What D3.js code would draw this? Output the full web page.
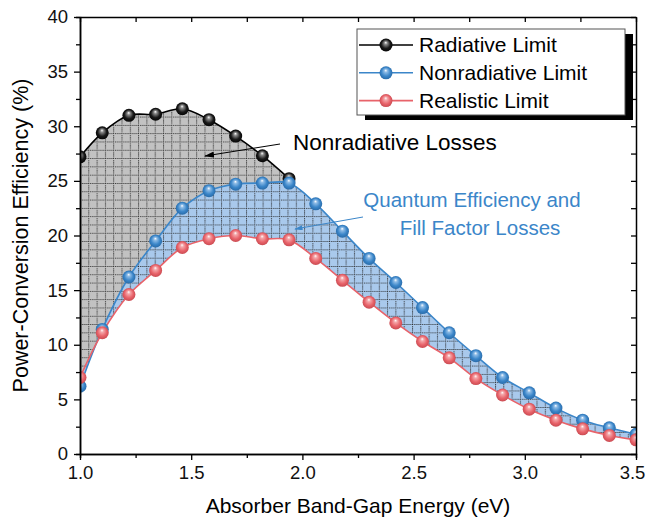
<!DOCTYPE html>
<html>
<head>
<meta charset="utf-8">
<script src="https://cdn.jsdelivr.net/npm/d3@7"></script>
<style>
  body { margin: 0; background: #fff; }
  text { font-family: "Liberation Sans", Arial, sans-serif; }
</style>
</head>
<body>
<div id="chart-area"></div>
<script>
// values
const energy = [1.00, 1.10, 1.22, 1.34, 1.46, 1.58, 1.70, 1.82, 1.94, 2.06, 2.18,
  2.30, 2.42, 2.54, 2.66, 2.78, 2.90, 3.02, 3.14, 3.26, 3.38, 3.50]
const radiative = [27.2, 29.4, 31.0, 31.1, 31.6, 30.6, 29.1, 27.3, 25.2]
const nonradiative = [6.2, 11.4, 16.2, 19.5, 22.5, 24.1, 24.7, 24.8, 24.8, 22.9, 20.4,
  17.9, 15.7, 13.4, 11.1, 9.0, 7.0, 5.6, 4.2, 3.1, 2.4, 1.8]
const realistic = [7.0, 11.1, 14.6, 16.8, 18.9, 19.7, 20.0, 19.7, 19.6, 17.9, 15.9,
  13.9, 12.0, 10.3, 8.8, 6.9, 5.4, 4.1, 3.1, 2.3, 1.7, 1.3]

const xTicks = [1.0, 1.5, 2.0, 2.5, 3.0, 3.5]
const xMinor = [1.25, 1.75, 2.25, 2.75, 3.25]
const yTicks = [0, 5, 10, 15, 20, 25, 30, 35, 40]
const yMinor = [2.5, 7.5, 12.5, 17.5, 22.5, 27.5, 32.5, 37.5]

const seriesNames = ["Radiative Limit", "Nonradiative Limit", "Realistic Limit"]

const MARGIN = {LEFT:80, RIGHT:11, TOP:17, BOTTOM:67}
const WIDTH = 647 - MARGIN.LEFT - MARGIN.RIGHT
const HEIGHT = 521 - MARGIN.TOP - MARGIN.BOTTOM

const svg = d3.select("#chart-area").append("svg")
  .attr("width", 647)
  .attr("height", 521)

const defs = svg.append("defs")

// dotted grid hatch used on both filled regions
function hatch(id, bg) {
  const p = defs.append("pattern")
    .attr("id", id)
    .attr("patternUnits", "userSpaceOnUse")
    .attr("width", 8.3)
    .attr("height", 8.3)
  p.append("rect").attr("width", 8.3).attr("height", 8.3).attr("fill", bg)
  p.append("path")
    .attr("d", "M0,0.5H8.3M0.5,0V8.3")
    .attr("stroke", "#222")
    .attr("stroke-width", 1)
    .attr("stroke-dasharray", "1,1")
}
hatch("hatch-gray", "#c2c2c2")
hatch("hatch-blue", "#a9c9ec")

// sphere look for the markers
const colors = [
  {id:"ball-black", line:"#000", stops:["#ffffff", "#8a8a8a", "#1a1a1a", "#000000"]},
  {id:"ball-blue", line:"#3b86c9", stops:["#ffffff", "#8dbbe6", "#3b86c9", "#2566a3"]},
  {id:"ball-red", line:"#e8636a", stops:["#ffffff", "#f4a7aa", "#e8636a", "#c4464d"]}
]
colors.forEach(c => {
  const gr = defs.append("radialGradient")
    .attr("id", c.id)
    .attr("cx", "50%").attr("cy", "50%").attr("r", "55%")
    .attr("fx", "48%").attr("fy", "30%")
  ;[0, 0.22, 0.62, 1].forEach((o, i) => {
    gr.append("stop").attr("offset", o).attr("stop-color", c.stops[i])
  })
})

defs.append("clipPath").attr("id", "plot-clip")
  .append("rect").attr("width", WIDTH).attr("height", HEIGHT)

defs.append("marker")
  .attr("id", "arrow-black")
  .attr("viewBox", "0 0 10 6").attr("refX", 9).attr("refY", 3)
  .attr("markerWidth", 10).attr("markerHeight", 6)
  .attr("markerUnits", "userSpaceOnUse")
  .attr("orient", "auto")
  .append("path").attr("d", "M0,0L10,3L0,6Z").attr("fill", "#000")
defs.append("marker")
  .attr("id", "arrow-blue")
  .attr("viewBox", "0 0 10 6").attr("refX", 9).attr("refY", 3)
  .attr("markerWidth", 9).attr("markerHeight", 5)
  .attr("markerUnits", "userSpaceOnUse")
  .attr("orient", "auto")
  .append("path").attr("d", "M0,0L10,3L0,6Z").attr("fill", "#3b86c9")

const g = svg.append("g")
  .attr("transform", `translate(${MARGIN.LEFT},${MARGIN.TOP})`)

const x = d3.scaleLinear().domain([1.0, 3.5]).range([0, WIDTH])
const y = d3.scaleLinear().domain([0, 40]).range([HEIGHT, 0])

const plot = g.append("g").attr("clip-path", "url(#plot-clip)")

// gray: between radiative and nonradiative
const grayData = radiative.map((v, i) => ({e: energy[i], top: v, bot: nonradiative[i]}))
const blueData = energy.map((e, i) => ({e: e, top: nonradiative[i], bot: realistic[i]}))

const area = d3.area()
  .x(d => x(d.e))
  .y0(d => y(d.bot))
  .y1(d => y(d.top))
  .curve(d3.curveCatmullRom)

plot.append("path").attr("d", area(grayData)).attr("fill", "url(#hatch-gray)")
plot.append("path").attr("d", area(blueData)).attr("fill", "url(#hatch-blue)")

const line = d3.line()
  .x(d => x(d[0]))
  .y(d => y(d[1]))
  .curve(d3.curveCatmullRom)

const series = [radiative, nonradiative, realistic]
series.forEach((s, k) => {
  plot.append("path")
    .attr("d", line(s.map((v, i) => [energy[i], v])))
    .attr("fill", "none")
    .attr("stroke", colors[k].line)
    .attr("stroke-width", 1.6)
})
series.forEach((s, k) => {
  plot.selectAll(null)
    .data(s.map((v, i) => [energy[i], v]))
    .enter().append("circle")
    .attr("cx", d => x(d[0]))
    .attr("cy", d => y(d[1]))
    .attr("r", 6.5)
    .attr("fill", `url(#${colors[k].id})`)
})

// axes
const xAxis = g.append("g")
  .attr("transform", `translate(0,${HEIGHT})`)
  .call(d3.axisBottom(x).tickValues(xTicks).tickSize(6).tickSizeOuter(0).tickFormat(d3.format(".1f")))
g.append("g")
  .attr("transform", `translate(0,${HEIGHT})`)
  .call(d3.axisBottom(x).tickValues(xMinor).tickSize(4).tickFormat(""))
const yAxis = g.append("g")
  .call(d3.axisLeft(y).tickValues(yTicks).tickSize(6).tickSizeOuter(0))
g.append("g")
  .call(d3.axisLeft(y).tickValues(yMinor).tickSize(4).tickFormat(""))
g.append("g")
  .call(d3.axisTop(x).tickValues(xTicks.concat(xMinor)).tickSize(-5).tickSizeOuter(0).tickFormat(""))
g.append("g")
  .attr("transform", `translate(${WIDTH},0)`)
  .call(d3.axisRight(y).tickValues(yTicks.concat(yMinor)).tickSize(-5).tickSizeOuter(0).tickFormat(""))

g.selectAll(".domain").attr("stroke-width", 1.5)
g.selectAll(".tick line").attr("stroke-width", 1.3)
xAxis.selectAll("text").attr("font-size", 18.5).attr("y", 11).attr("dy", "0.75em").attr("fill", "#111")
// last label sits at the window edge, pull it in a little
xAxis.selectAll("text").filter(d => d === 3.5).attr("dx", -4)
yAxis.selectAll("text").attr("font-size", 18.5).attr("x", -12).attr("fill", "#111")

svg.append("text")
  .attr("x", MARGIN.LEFT + WIDTH / 2)
  .attr("y", 513)
  .attr("text-anchor", "middle")
  .attr("font-size", 21)
  .text("Absorber Band-Gap Energy (eV)")
svg.append("text")
  .attr("transform", `translate(28,${MARGIN.TOP + HEIGHT / 2}) rotate(-90)`)
  .attr("text-anchor", "middle")
  .attr("font-size", 21.5)
  .text("Power-Conversion Efficiency (%)")

// annotations
g.append("text")
  .attr("x", 293 - MARGIN.LEFT).attr("y", 150 - MARGIN.TOP)
  .attr("font-size", 22.5)
  .text("Nonradiative Losses")
g.append("line")
  .attr("x1", 280 - MARGIN.LEFT).attr("y1", 144 - MARGIN.TOP)
  .attr("x2", 205 - MARGIN.LEFT).attr("y2", 156 - MARGIN.TOP)
  .attr("stroke", "#000").attr("stroke-width", 1)
  .attr("marker-end", "url(#arrow-black)")
const qText = g.append("text")
  .attr("text-anchor", "middle")
  .attr("font-size", 20.5)
  .attr("fill", "#3b86c9")
qText.append("tspan").attr("x", 472 - MARGIN.LEFT).attr("y", 207 - MARGIN.TOP).text("Quantum Efficiency and")
qText.append("tspan").attr("x", 480 - MARGIN.LEFT).attr("y", 235 - MARGIN.TOP).text("Fill Factor Losses")
g.append("line")
  .attr("x1", 363 - MARGIN.LEFT).attr("y1", 217 - MARGIN.TOP)
  .attr("x2", 295 - MARGIN.LEFT).attr("y2", 229 - MARGIN.TOP)
  .attr("stroke", "#3b86c9").attr("stroke-width", 1)
  .attr("marker-end", "url(#arrow-blue)")

// legend with drop shadow
const legend = svg.append("g").attr("transform", "translate(357,29)")
legend.append("rect")
  .attr("x", 8).attr("y", 5).attr("width", 268).attr("height", 86)
  .attr("fill", "#000")
legend.append("rect")
  .attr("width", 268).attr("height", 86)
  .attr("fill", "#fff").attr("stroke", "#555").attr("stroke-width", 1)
seriesNames.forEach((name, k) => {
  const row = legend.append("g").attr("transform", `translate(0,${16 + k * 27.8})`)
  row.append("line")
    .attr("x1", 2).attr("x2", 56).attr("y1", 0).attr("y2", 0)
    .attr("stroke", colors[k].line).attr("stroke-width", 1.6)
  row.append("circle").attr("cx", 29).attr("cy", 0).attr("r", 6.5)
    .attr("fill", `url(#${colors[k].id})`)
  row.append("text").attr("x", 62).attr("y", 0).attr("dy", "0.35em")
    .attr("font-size", 21)
    .text(name)
})
</script>
</body>
</html>
